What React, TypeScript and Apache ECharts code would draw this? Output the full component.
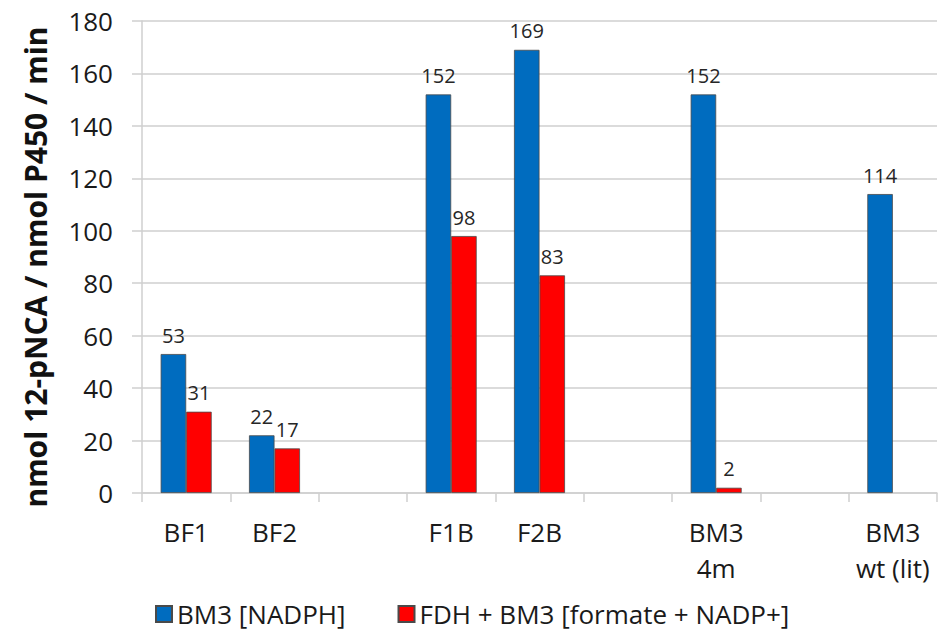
import React, { useEffect, useRef } from "react";
import * as echarts from "echarts";

const categories = ["BF1", "BF2", "", "F1B", "F2B", "", "BM3\n4m", "", "BM3\nwt (lit)"];
const nadphValues: (number | null)[] = [53, 22, null, 152, 169, null, 152, null, 114];
const formateValues: (number | null)[] = [31, 17, null, 98, 83, null, 2, null, null];
const seriesNames = ["BM3 [NADPH]", "FDH + BM3 [formate + NADP+]"];
const yAxisTitle = "nmol 12-pNCA / nmol P450 / min";

const FONT = "'Open Sans', sans-serif";
const GRID_COLOR = "#cfcfcf";

export default function App() {
  const ref = useRef<HTMLDivElement>(null);

  useEffect(() => {
    if (!ref.current) return;
    const chart = echarts.init(ref.current, undefined, { renderer: "svg" });

    const valueLabel = {
      show: true,
      position: "top" as const,
      distance: 9,
      color: "#262626",
      fontSize: 20,
      fontFamily: FONT,
    };

    chart.setOption({
      animation: false,
      backgroundColor: "#ffffff",
      textStyle: { fontFamily: FONT },
      grid: { left: 142, right: 1, top: 21, bottom: 139, containLabel: false },
      legend: {
        left: 155,
        top: 601,
        padding: 0,
        itemWidth: 16,
        itemHeight: 16,
        itemGap: 52,
        icon: "rect",
        textStyle: { fontSize: 26, color: "#1a1a1a", fontFamily: FONT },
        data: seriesNames,
      },
      xAxis: {
        type: "category",
        data: categories,
        axisLine: { show: true, lineStyle: { color: GRID_COLOR, width: 1.5 } },
        axisTick: { show: true, length: 9, lineStyle: { color: GRID_COLOR, width: 1.5 } },
        axisLabel: {
          interval: 0,
          margin: 21,
          fontSize: 26,
          lineHeight: 36,
          color: "#1a1a1a",
          fontFamily: FONT,
        },
        splitLine: { show: false },
      },
      yAxis: {
        type: "value",
        min: 0,
        max: 180,
        interval: 20,
        name: yAxisTitle,
        nameLocation: "middle",
        nameGap: 92,
        nameTextStyle: {
          fontSize: 30,
          fontWeight: "bold",
          color: "#111",
          fontFamily: FONT,
          padding: [0, 20, 0, 0],
        },
        axisLine: { show: true, lineStyle: { color: GRID_COLOR, width: 1.5 } },
        axisTick: { show: true, length: 10, lineStyle: { color: GRID_COLOR, width: 1.5 } },
        axisLabel: { margin: 29, fontSize: 26, color: "#1a1a1a", fontFamily: FONT },
        splitLine: { show: true, lineStyle: { color: GRID_COLOR, width: 1.5 } },
      },
      series: [
        {
          name: seriesNames[0],
          type: "bar",
          data: nadphValues,
          barWidth: 25.5,
          barGap: "0%",
          itemStyle: { color: "#006cbf", borderColor: "#4a4a4a", borderWidth: 0.8 },
          label: valueLabel,
        },
        {
          name: seriesNames[1],
          type: "bar",
          data: formateValues,
          barWidth: 25.5,
          barGap: "0%",
          itemStyle: { color: "#ff0000", borderColor: "#4a4a4a", borderWidth: 0.8 },
          label: valueLabel,
        },
      ],
    });

    return () => chart.dispose();
  }, []);

  return <div ref={ref} style={{ width: 938, height: 632, position: "absolute", left: 0, top: 0 }} />;
}
